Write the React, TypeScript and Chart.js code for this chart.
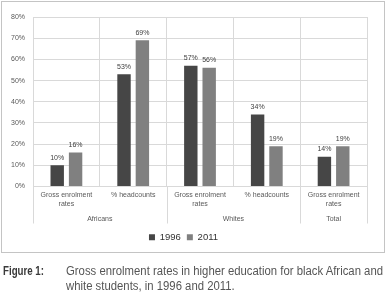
import React, { useEffect, useLayoutEffect, useRef } from "react";
import { Chart, registerables } from "chart.js";

Chart.register(...registerables);

// ---- data ----
const groups = ["Africans", "Whites", "Total"];
const groupSizes = [2, 2, 1];
const categories: (string | string[])[] = [
  ["Gross enrolment", "rates"],
  "% headcounts",
  ["Gross enrolment", "rates"],
  "% headcounts",
  ["Gross enrolment", "rates"],
];
const seriesNames = ["1996", "2011"];
const values1996 = [10, 53, 57, 34, 14];
const values2011 = [16, 69, 56, 19, 19];
const yMin = 0;
const yMax = 80;
const yStep = 10;
const captionLabel = "Figure 1:";
const captionLines = [
  "Gross enrolment rates in higher education for black African and",
  "white students, in 1996 and 2011.",
];

const FONT = "'Liberation Sans', Arial, sans-serif";
const GRID = "#d9d9d9";
const TICK = "#595959";
const DARK = "#464646";
const LIGHT = "#808080";

const dataLabelPlugin = {
  id: "dataLabels",
  afterDatasetsDraw(chart: any) {
    const { ctx } = chart;
    ctx.save();
    ctx.font = `7px ${FONT}`;
    ctx.fillStyle = "#404040";
    ctx.textAlign = "center";
    ctx.textBaseline = "bottom";
    chart.data.datasets.forEach((ds: any, di: number) => {
      const meta = chart.getDatasetMeta(di);
      meta.data.forEach((bar: any, i: number) => {
        ctx.fillText(`${ds.data[i]}%`, bar.x, bar.y - 4);
      });
    });
    ctx.restore();
  },
};

const groupAxisPlugin = {
  id: "groupAxis",
  afterDraw(chart: any) {
    const { ctx, chartArea } = chart;
    const x = chart.scales.x;
    const half = (x.getPixelForTick(1) - x.getPixelForTick(0)) / 2;
    const top = chartArea.bottom;
    const bottom = chartArea.bottom + 37;
    ctx.save();
    ctx.strokeStyle = GRID;
    ctx.lineWidth = 1;
    ctx.font = `7px ${FONT}`;
    ctx.fillStyle = TICK;
    ctx.textAlign = "center";
    ctx.textBaseline = "middle";
    const edges: number[] = [x.getPixelForTick(0) - half];
    let start = 0;
    groupSizes.forEach((n, gi) => {
      const left = x.getPixelForTick(start) - half;
      const right = x.getPixelForTick(start + n - 1) + half;
      edges.push(right);
      ctx.fillText(groups[gi], (left + right) / 2, chartArea.bottom + 33);
      start += n;
    });
    edges.forEach((e) => {
      const px = Math.round(e) + 0.5;
      ctx.beginPath();
      ctx.moveTo(px, top);
      ctx.lineTo(px, bottom);
      ctx.stroke();
    });
    ctx.restore();
  },
};

function BarChart() {
  const ref = useRef<HTMLCanvasElement | null>(null);
  useEffect(() => {
    if (!ref.current) return;
    const chart = new Chart(ref.current, {
      type: "bar",
      data: {
        labels: categories,
        datasets: [
          { label: seriesNames[0], data: values1996, backgroundColor: DARK, categoryPercentage: 0.55, barPercentage: 0.73 },
          { label: seriesNames[1], data: values2011, backgroundColor: LIGHT, categoryPercentage: 0.55, barPercentage: 0.73 },
        ],
      },
      options: {
        responsive: false,
        animation: false,
        layout: { padding: { top: 17, right: 19, left: 0, bottom: 0 } },
        plugins: {
          legend: {
            position: "bottom",
            labels: {
              boxWidth: 6,
              boxHeight: 6,
              padding: 6,
              color: "#333333",
              font: { family: FONT, size: 9.5 },
            },
          },
          tooltip: { enabled: false },
        },
        scales: {
          x: {
            grid: { color: GRID, drawTicks: false, offset: true },
            border: { color: GRID },
            ticks: {
              color: TICK,
              padding: 4,
              maxRotation: 0,
              autoSkip: false,
              font: { family: FONT, size: 7, lineHeight: 1.3 },
            },
            afterFit: (s: any) => {
              s.height = 40;
            },
          },
          y: {
            min: yMin,
            max: yMax,
            grid: { color: GRID, drawTicks: false },
            border: { display: false },
            ticks: {
              stepSize: yStep,
              color: TICK,
              padding: 8,
              font: { family: FONT, size: 7 },
              callback: (v: any) => `${v}%`,
            },
            afterFit: (s: any) => {
              s.width = 33;
            },
          },
        },
      },
      plugins: [dataLabelPlugin, groupAxisPlugin],
    } as any);
    return () => chart.destroy();
  }, []);
  return <canvas ref={ref} width={386} height={252} style={{ position: "absolute", left: 0, top: 0, width: 386, height: 252 }} />;
}

function Caption() {
  const labelRef = useRef<HTMLSpanElement | null>(null);
  const textRef = useRef<HTMLDivElement | null>(null);
  const line1Ref = useRef<HTMLSpanElement | null>(null);
  useLayoutEffect(() => {
    if (labelRef.current) {
      const w = labelRef.current.getBoundingClientRect().width;
      if (w > 0) labelRef.current.style.transform = `scaleX(${41 / w})`;
    }
    if (textRef.current && line1Ref.current) {
      const w = line1Ref.current.getBoundingClientRect().width;
      if (w > 0) textRef.current.style.transform = `scaleX(${317 / w})`;
    }
  }, []);
  return (
    <div
      style={{
        position: "absolute",
        left: 3,
        top: 264,
        width: 383,
        fontFamily: FONT,
        fontSize: 12,
        lineHeight: "14.5px",
        color: "#555555",
        whiteSpace: "nowrap",
      }}
    >
      <span
        ref={labelRef}
        style={{ position: "absolute", left: 0, top: 0, fontWeight: "bold", color: "#3a3a3a", transformOrigin: "0 0", display: "inline-block" }}
      >
        {captionLabel}
      </span>
      <div ref={textRef} style={{ position: "absolute", left: 63, top: 0, transformOrigin: "0 0" }}>
        <span ref={line1Ref}>{captionLines[0]}</span>
        <br />
        <span>{captionLines[1]}</span>
      </div>
    </div>
  );
}

export default function App() {
  return (
    <div style={{ position: "absolute", left: 0, top: 0, width: 386, height: 293, background: "#ffffff", overflow: "hidden" }}>
      <BarChart />
      <div
        style={{
          position: "absolute",
          left: 1,
          top: 1,
          width: 384,
          height: 252,
          boxSizing: "border-box",
          border: "1px solid #c4c4c4",
          pointerEvents: "none",
        }}
      />
      <Caption />
    </div>
  );
}
